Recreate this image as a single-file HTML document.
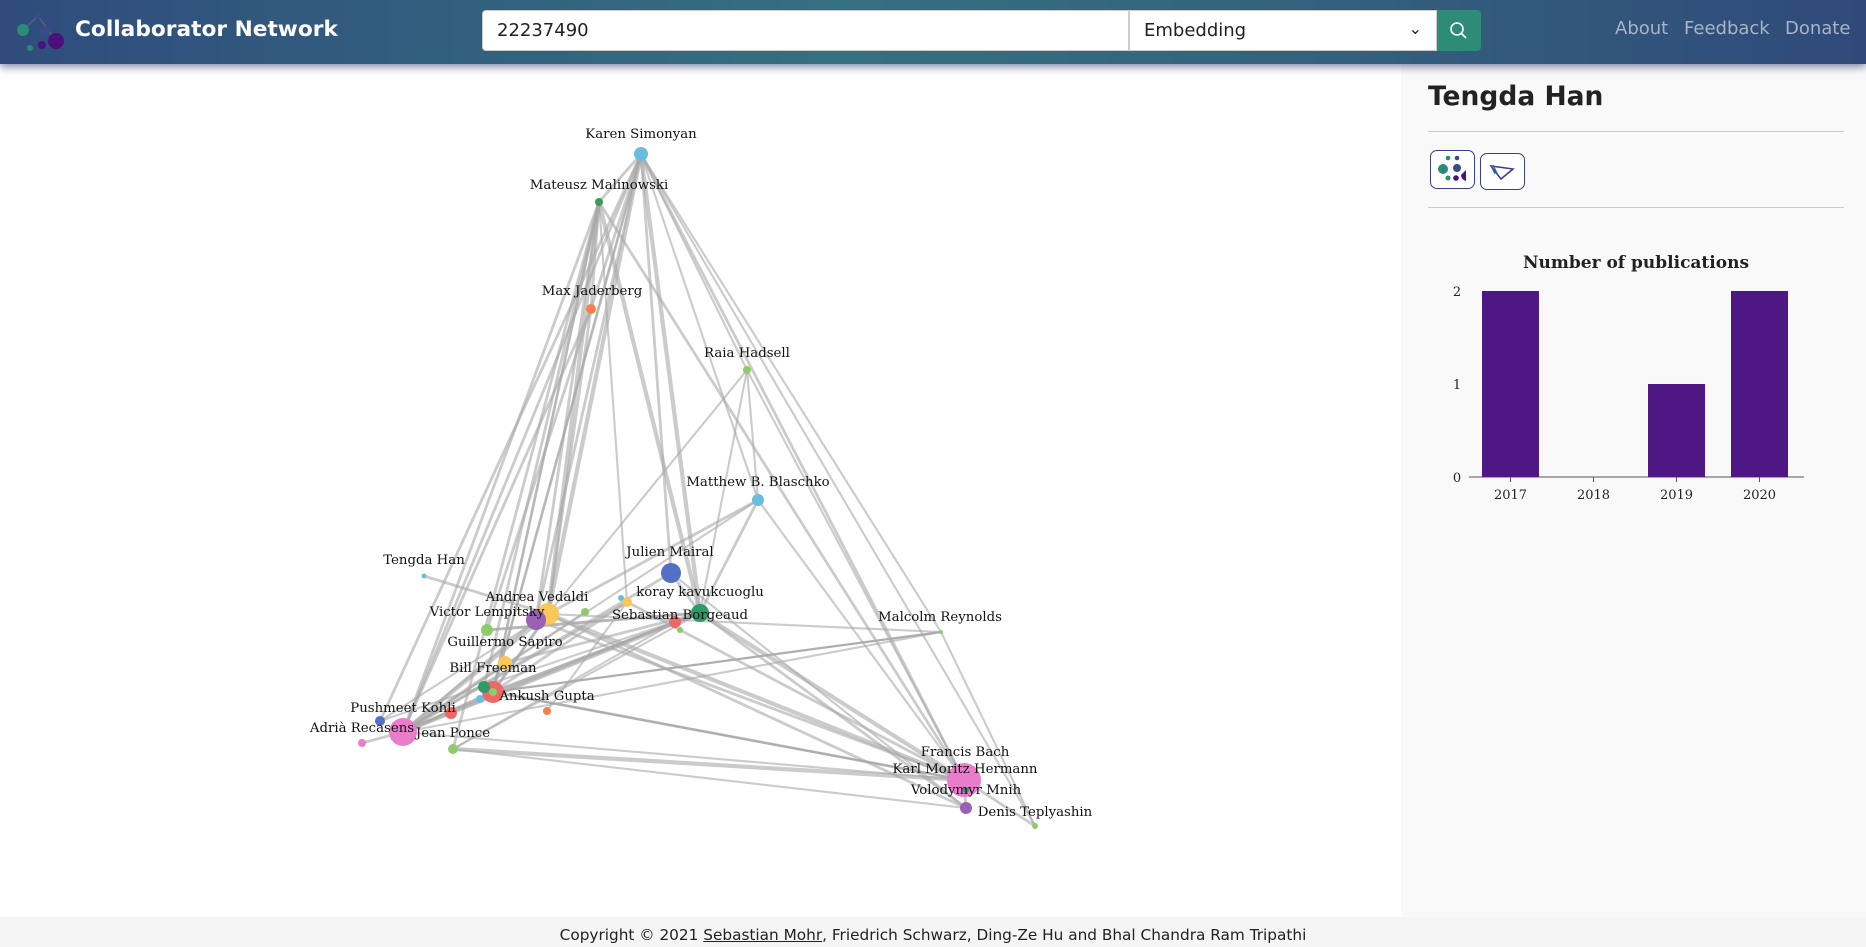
<!DOCTYPE html>
<html><head><meta charset="utf-8">
<style>
*{box-sizing:border-box;margin:0;padding:0}
body{width:1866px;height:947px;overflow:hidden;background:#fff;font-family:"DejaVu Sans","Liberation Sans",sans-serif;position:relative}
.hdr{position:absolute;left:0;top:0;width:1866px;height:64px;background:linear-gradient(90deg,#2f4c7c 0%,#357080 45%,#34617d 70%,#2f4a7a 100%);box-shadow:0 3px 8px rgba(40,60,110,.6);z-index:2}
.brand{position:absolute;left:75px;top:17px;color:#fff;font-weight:bold;font-size:21.7px}
.inp{position:absolute;left:482px;top:10px;width:647px;height:41px;background:#fff;border:1px solid #ccc;border-radius:4px 0 0 4px;font-size:18px;padding:9px 14px;color:#222}
.sel{position:absolute;left:1129px;top:10px;width:308px;height:41px;background:#fff;border:1px solid #ccc;font-size:18px;padding:9px 14px;color:#222}
.btn{position:absolute;left:1437px;top:10px;width:44px;height:41px;background:#2e8b78;border-radius:0 4px 4px 0}
.nav{position:absolute;top:18px;color:#a9b4c6;font-size:18px}
.side{position:absolute;left:1401px;top:64px;width:465px;height:853px;background:#f9f9f9}
.foot{position:absolute;left:0;top:917px;width:1866px;height:30px;background:#f5f5f5;text-align:center;font-size:15.3px;color:#222;padding-top:9px}
</style></head><body>
<div class="hdr">
<svg style="position:absolute;left:8px;top:8px" width="62" height="46">
<line x1="15" y1="22" x2="30" y2="8" stroke="#667" stroke-width="1"/><line x1="30" y1="8" x2="46" y2="30" stroke="#667" stroke-width="1"/>
<circle cx="15" cy="22" r="6" fill="#2b8a7a"/><circle cx="30" cy="8" r="3" fill="#3a4a8a"/><circle cx="37" cy="23" r="5" fill="#3a4a8a"/><circle cx="48" cy="33" r="8" fill="#4b0f7e"/><circle cx="34" cy="37" r="4" fill="#4b0f7e"/><circle cx="22" cy="40" r="3" fill="#2b8a7a"/>
</svg>
<div class="brand">Collaborator Network</div>
<div class="inp">22237490</div>
<div class="sel">Embedding<span style="position:absolute;right:14px;top:8px;font-size:16px">&#8964;</span></div>
<div class="btn"><svg width="44" height="41"><circle cx="20" cy="19" r="6" fill="none" stroke="#fff" stroke-width="1.6"/><line x1="24.5" y1="23.5" x2="29" y2="28" stroke="#fff" stroke-width="1.6"/></svg></div>
<div class="nav" style="left:1615px">About</div>
<div class="nav" style="left:1684px">Feedback</div>
<div class="nav" style="left:1785px">Donate</div>
</div>

<svg id="net" style="position:absolute;left:0;top:64px" width="1401" height="853"></svg>

<div class="side">
<div style="position:absolute;left:27px;top:17px;font-size:26.5px;font-weight:bold;color:#222">Tengda Han</div>
<div style="position:absolute;left:27px;top:67px;width:416px;border-top:1px solid #ccc"></div>
<div style="position:absolute;left:29px;top:86px;width:45px;height:39px;border:1.5px solid #3a3f8a;border-radius:7px;background:#fff">
<svg width="42" height="36"><circle cx="12" cy="18" r="5" fill="#2b8a7a"/><circle cx="17" cy="7" r="2.3" fill="#2b8a7a"/><circle cx="26" cy="7" r="2.3" fill="#3a4a8a"/><circle cx="26" cy="17" r="4" fill="#3a4a8a"/><circle cx="17" cy="27" r="2.5" fill="#2b8a7a"/><circle cx="25" cy="27" r="2.8" fill="#4b0f7e"/><path d="M35 19 L35 30 A6 6 0 0 1 30 24 Z" fill="#4b0f7e"/></svg></div>
<div style="position:absolute;left:79px;top:89px;width:45px;height:37px;border:1.5px solid #3a3f8a;border-radius:7px;background:#fff">
<svg width="42" height="34"><path d="M10 12 L32 15 L20 25 Z" fill="none" stroke="#3a3f8a" stroke-width="1.6"/><path d="M10 12 L14 20 M12 11 L16 19" stroke="#3a6ab0" stroke-width="1.2"/></svg></div>
<div style="position:absolute;left:27px;top:143px;width:416px;border-top:1px solid #ccc"></div>
<svg id="bar" style="position:absolute;left:0;top:106px" width="465" height="340"></svg>
</div>

<div class="foot">Copyright © 2021 <u>Sebastian Mohr</u>, Friedrich Schwarz, Ding-Ze Hu and Bhal Chandra Ram Tripathi</div>

<script>
const years=["2017","2018","2019","2020"];
const pubs=[2,0,1,2];
const yTicks=[0,1,2];
const nodeNames=["Karen Simonyan","Mateusz Malinowski","Max Jaderberg","Raia Hadsell","Matthew B. Blaschko","Tengda Han","Julien Mairal","koray kavukcuoglu","Sebastian Borgeaud","Andrea Vedaldi","Victor Lempitsky","Guillermo Sapiro","Bill Freeman","Ankush Gupta","Pushmeet Kohli","Adrià Recasens","Jean Ponce","Malcolm Reynolds","Francis Bach","Karl Moritz Hermann","Volodymyr Mnih","Denis Teplyashin","","","","","","","","","",""];
const nodeX=[641,599,591,747,758,424,671,627,700,548,487,505,493,493,380,403,453,941,964,966,966,1035,536,621,675,680,585,484,480,547,451,362];
const nodeY=[154,202,309,370,500,576,573,602,613,614,630,663,692,692,721,732,749,632,780,790,808,826,620,598,622,630,612,687,699,711,713,743];
const nodeR=[7,4,5,4,6,2.5,10,5,9,11,6,7,11,4,5,14,5,2,17,3,6,3,10,3,6,3,4,6,4,4,6,4];
const nodeC=["#6bbde0","#3a9a5a","#f77f4a","#8ecb6a","#6bbde0","#6bbde0","#5470c6","#fac858","#2e9a68","#fac858","#8ecb6a","#fac858","#ee6666","#8ecb6a","#5470c6","#ea7ccc","#8ecb6a","#8ecb6a","#ea7ccc","#2e9a68","#9a60b4","#8ecb6a","#9a60b4","#6bbde0","#ee6666","#8ecb6a","#8ecb6a","#2e9a68","#6bbde0","#f77f4a","#ee6666","#ea7ccc"];
const labelX=[641,599,592,747,758,424,670,700,680,537,487,505,493,547,403,362,453,940,965,965,966,1035];
const labelY=[138,189,295,357,486,564,556,596,619,601,616,646,672,700,712,732,737,621,756,773,794,816];
const edgeA=[0,0,0,0,0,0,0,0,0,0,0,0,1,1,1,1,1,1,1,1,1,3,3,3,3,4,4,4,5,6,6,6,8,8,8,8,8,8,8,8,9,9,9,9,9,9,15,15,15,15,15,16,16,17,17,17,18,18,18,18,12,13,2,2,10,14,26,24,0,0,0,1,1,7,7,7,12,11,22,22,29,8,4];
const edgeB=[1,9,8,15,18,21,6,13,12,3,4,17,9,8,15,16,13,12,7,2,18,9,18,8,4,8,15,18,9,8,15,20,15,13,12,18,20,10,16,14,15,13,18,20,12,17,13,12,31,24,18,18,20,15,13,21,20,21,13,12,17,17,9,15,8,9,15,16,14,22,10,22,27,15,13,18,18,15,15,18,7,11,9];
const edgeW=[2,3,3,2,2,1.5,2,2,1.5,1.5,1.5,1.5,3,3,2,2,2,1.5,1.5,2,2,1.5,1.5,1.5,1.5,2,1.5,1.5,2,2,2,1.5,3,2,2,3,2,2,1.5,1.5,3,2,3,2,2,1.5,2,2,2,2,1.5,3,1.5,1.5,1.5,1.5,2,2,1.5,1.5,1.5,1.5,2,2,2,1.5,1.5,1.5,2,2,2,2,2,2,2,2,2,2,2,2,1.5,2,2];

const NS="http://www.w3.org/2000/svg";
function mk(p,t,a){const e=document.createElementNS(NS,t);for(const k in a)e.setAttribute(k,a[k]);p.appendChild(e);return e;}
const net=document.getElementById('net');
const sx=i=>nodeX[i], sy=i=>nodeY[i]-64;
edgeA.forEach((a,k)=>{
 const l=mk(net,'line',{x1:sx(a),y1:sy(a),x2:sx(edgeB[k]),y2:sy(edgeB[k]),stroke:'#a8a8a8','stroke-opacity':0.6,'stroke-width':edgeW[k]*1.4});
 
 
});
nodeX.forEach((x,i)=>{
 const c=mk(net,'circle',{cx:sx(i),cy:sy(i),r:nodeR[i],fill:nodeC[i]});
 
 
});
nodeNames.forEach((n,i)=>{
 if(!n)return;
 const t=mk(net,'text',{x:labelX[i],y:labelY[i]-64,'text-anchor':'middle','font-family':'"DejaVu Serif","Liberation Serif",serif','font-size':13.3,fill:'#111'});
 t.textContent=n;
 
 
});

const bar=document.getElementById('bar');
const x0=68,step=83,bw=57,yb=307,yt=121;
const yS=v=>yb-(yb-yt)*v/2;
const ttl=mk(bar,'text',{x:235,y:98,'text-anchor':'middle','font-family':'"DejaVu Serif","Liberation Serif",serif','font-weight':'bold','font-size':17,fill:'#222'});
ttl.textContent='Number of publications';


mk(bar,'line',{x1:x0,y1:yb,x2:x0+4*step+3,y2:yb,stroke:'#555','stroke-width':1});
yTicks.forEach(v=>{
 const t=mk(bar,'text',{x:56,y:yS(v)+5,'text-anchor':'middle','font-family':'"DejaVu Serif",serif','font-size':13,fill:'#222'});
 t.textContent=v;
 
 
});
years.forEach((y,i)=>{
 const cx=x0+step*i+step/2;
 if(pubs[i]>0){
  const r=mk(bar,'rect',{x:cx-bw/2,y:yS(pubs[i]),width:bw,height:yb-yS(pubs[i]),fill:'#4f1783'});
  
  
 }
 mk(bar,'line',{x1:cx,y1:yb,x2:cx,y2:yb+5,stroke:'#555'});
 const t=mk(bar,'text',{x:cx,y:yb+22,'text-anchor':'middle','font-family':'"DejaVu Serif",serif','font-size':13,fill:'#222'});
 t.textContent=y;
 
 
});
</script>
</body></html>
